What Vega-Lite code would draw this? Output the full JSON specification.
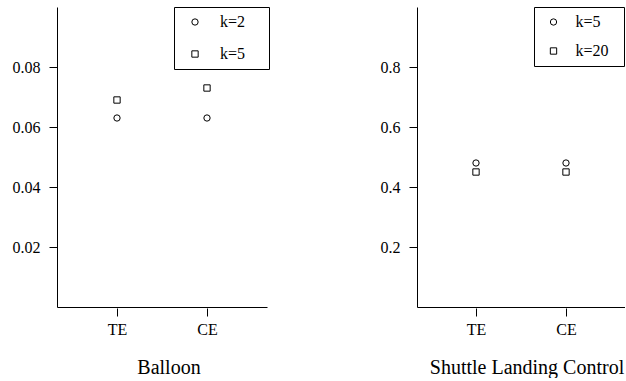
{
  "$schema": "https://vega.github.io/schema/vega-lite/v6.json",
  "background": "white",
  "padding": {"left": 12, "top": 6, "right": 0, "bottom": 0},
  "config": {
    "font": "Liberation Serif",
    "view": {"stroke": null},
    "axis": {"grid": false, "labelFont": "Liberation Serif", "labelFontSize": 16, "labelColor": "black", "domainColor": "black", "tickColor": "black", "domainWidth": 1, "tickWidth": 1},
    "title": {"font": "Liberation Serif", "fontSize": 20, "fontWeight": "normal", "color": "black"},
    "legend": {"orient": "none", "legendX": 117, "legendY": 0, "title": null, "strokeColor": "black", "strokeWidth": 1, "padding": 7, "labelFont": "Liberation Serif", "labelFontSize": 16, "labelColor": "black", "symbolSize": 40, "symbolStrokeColor": "black", "symbolStrokeWidth": 1, "symbolFillColor": "transparent"}
  },
  "datasets": {
    "results": [
      {"dataset": "Balloon", "method": "TE", "k": "k=2", "value": 0.063},
      {"dataset": "Balloon", "method": "TE", "k": "k=5", "value": 0.069},
      {"dataset": "Balloon", "method": "CE", "k": "k=2", "value": 0.063},
      {"dataset": "Balloon", "method": "CE", "k": "k=5", "value": 0.073},
      {"dataset": "Shuttle Landing Control", "method": "TE", "k": "k=5", "value": 0.48},
      {"dataset": "Shuttle Landing Control", "method": "TE", "k": "k=20", "value": 0.45},
      {"dataset": "Shuttle Landing Control", "method": "CE", "k": "k=5", "value": 0.48},
      {"dataset": "Shuttle Landing Control", "method": "CE", "k": "k=20", "value": 0.45}
    ]
  },
  "spacing": 110,
  "hconcat": [
    {
      "data": {"name": "results"},
      "transform": [{"filter": "datum.dataset === 'Balloon'"}],
      "width": 210,
      "height": 300,
      "title": {"text": "Balloon", "orient": "bottom", "dx": 7, "offset": 21},
      "encoding": {
        "y": {"field": "value", "type": "quantitative", "scale": {"domain": [0, 0.1], "nice": false, "zero": true}, "axis": {"values": [0.02, 0.04, 0.06, 0.08], "format": ".2f", "title": null, "tickSize": 8, "labelPadding": 9, "labelFont": "Liberation Serif", "labelFontSize": 16}},
        "shape": {"field": "k", "type": "nominal", "scale": {"domain": ["k=2", "k=5"], "range": ["circle", "square"]}, "legend": {"symbolOffset": 6, "labelOffset": 17, "rowPadding": 16, "labelFont": "Liberation Serif", "labelFontSize": 16, "labelExpr": "datum.label + '\u2003\u200b'"}}
      },
      "layer": [
        {
          "transform": [{"filter": "datum.k === 'k=2'"}],
          "mark": {"type": "point", "filled": false, "color": "black", "strokeWidth": 1, "size": 40, "opacity": 1},
          "encoding": {"x": {"field": "method", "type": "ordinal", "scale": {"type": "point", "domain": ["TE", "CE"], "padding": 0.6667}, "axis": {"orient": "bottom", "title": null, "ticks": false, "labels": false, "domain": true}}}
        },
        {
          "transform": [{"filter": "datum.k === 'k=5'"}],
          "mark": {"type": "point", "filled": false, "color": "black", "strokeWidth": 1, "size": 40, "opacity": 1},
          "encoding": {"x": {"field": "method", "type": "ordinal", "scale": {"type": "point", "domain": ["TE", "CE"], "padding": 0.6667}, "axis": {"orient": "bottom", "title": null, "domain": false, "ticks": true, "tickSize": 8, "offset": 1, "labelPadding": 5, "labelAngle": 0, "labelFont": "Liberation Serif", "labelFontSize": 16}}}
        }
      ],
      "resolve": {"axis": {"x": "independent"}}
    },
    {
      "data": {"name": "results"},
      "transform": [{"filter": "datum.dataset === 'Shuttle Landing Control'"}],
      "width": 208,
      "height": 300,
      "title": {"text": "Shuttle Landing Control", "orient": "bottom", "dx": 6, "offset": 21},
      "encoding": {
        "y": {"field": "value", "type": "quantitative", "scale": {"domain": [0, 1], "nice": false, "zero": true}, "axis": {"values": [0.2, 0.4, 0.6, 0.8], "format": ".1f", "title": null, "tickSize": 8, "labelPadding": 9, "labelFont": "Liberation Serif", "labelFontSize": 16}},
        "shape": {"field": "k", "type": "nominal", "scale": {"domain": ["k=5", "k=20"], "range": ["circle", "square"]}, "legend": {"symbolOffset": 4.5, "labelOffset": 14, "rowPadding": 13, "labelFont": "Liberation Serif", "labelFontSize": 16, "labelExpr": "datum.label + '\u2002\u200b'"}}
      },
      "layer": [
        {
          "transform": [{"filter": "datum.k === 'k=5'"}],
          "mark": {"type": "point", "filled": false, "color": "black", "strokeWidth": 1, "size": 40, "opacity": 1},
          "encoding": {"x": {"field": "method", "type": "ordinal", "scale": {"type": "point", "domain": ["TE", "CE"], "padding": 0.6556}, "axis": {"orient": "bottom", "title": null, "ticks": false, "labels": false, "domain": true}}}
        },
        {
          "transform": [{"filter": "datum.k === 'k=20'"}],
          "mark": {"type": "point", "filled": false, "color": "black", "strokeWidth": 1, "size": 40, "opacity": 1},
          "encoding": {"x": {"field": "method", "type": "ordinal", "scale": {"type": "point", "domain": ["TE", "CE"], "padding": 0.6556}, "axis": {"orient": "bottom", "title": null, "domain": false, "ticks": true, "tickSize": 8, "offset": 1, "labelPadding": 5, "labelAngle": 0, "labelFont": "Liberation Serif", "labelFontSize": 16}}}
        }
      ],
      "resolve": {"axis": {"x": "independent"}}
    }
  ],
  "resolve": {"scale": {"x": "independent", "y": "independent", "shape": "independent"}, "legend": {"shape": "independent"}}
}
